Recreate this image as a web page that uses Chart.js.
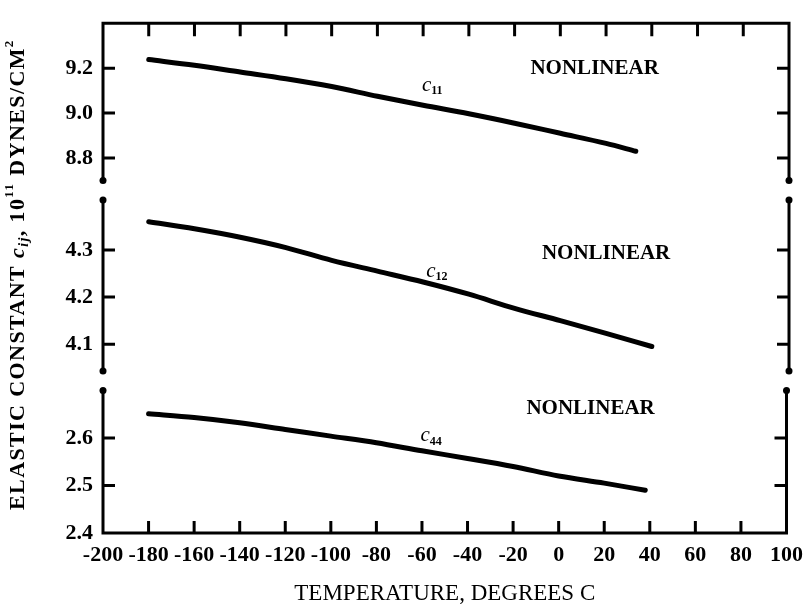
<!DOCTYPE html>
<html>
<head>
<meta charset="utf-8">
<script src="https://cdn.jsdelivr.net/npm/chart.js@4.4.1/dist/chart.umd.min.js"></script>
<style>
  html, body { margin: 0; padding: 0; background: #fff; }
  #wrap { position: relative; width: 812px; height: 604px; }
  #wrap canvas { position: absolute; left: 0; top: 0; }
</style>
</head>
<body>
<div id="wrap">
  <canvas id="chartTop" width="812" height="604"></canvas>
  <canvas id="chartMid" width="812" height="604"></canvas>
  <canvas id="chartBot" width="812" height="604"></canvas>
</div>
<script>
const FONT = '"Liberation Serif", "Times New Roman", serif';

// temperatures (deg C) and elastic constants (10^11 dynes/cm^2)
const tempsC11 = [-180, -160, -140, -120, -100, -80, -60, -40, -20, 0, 20, 33];
const valuesC11 = [9.238, 9.213, 9.183, 9.153, 9.118, 9.075, 9.035, 8.997, 8.955, 8.91, 8.865, 8.83];

const tempsC12 = [-180, -160, -140, -120, -100, -80, -60, -40, -20, 0, 20, 40];
const valuesC12 = [4.36, 4.345, 4.327, 4.305, 4.278, 4.255, 4.232, 4.206, 4.176, 4.15, 4.123, 4.095];

const tempsC44 = [-180, -160, -140, -120, -100, -80, -60, -40, -20, 0, 20, 38];
const valuesC44 = [2.651, 2.643, 2.632, 2.618, 2.604, 2.59, 2.573, 2.557, 2.54, 2.52, 2.505, 2.49];

const xTicks = [-200, -180, -160, -140, -120, -100, -80, -60, -40, -20, 0, 20, 40, 60, 80, 100];
const yTicksTop = [8.8, 9.0, 9.2];
const yTicksMid = [4.1, 4.2, 4.3];
const yTicksBot = [2.4, 2.5, 2.6];

function pointsOf(temps, values) {
    return temps.map((t, i) => ({ x: t, y: values[i] }));
}

// frame, inward ticks, broken-axis ends and the text on the plot
const framePlugin = {
    id: 'frame',
    afterDraw(chart, args, opts) {
        const { ctx, chartArea: a } = chart;
        const xs = chart.scales.x;
        const ys = chart.scales.y;
        ctx.save();
        ctx.strokeStyle = '#000';
        ctx.fillStyle = '#000';
        ctx.lineWidth = 3;
        ctx.beginPath();
        ctx.moveTo(a.left, a.top); ctx.lineTo(a.left, a.bottom);
        ctx.moveTo(a.right, a.top); ctx.lineTo(a.right, a.bottom);
        if (opts.top) { ctx.moveTo(a.left - 1.5, a.top); ctx.lineTo(a.right + 1.5, a.top); }
        if (opts.bottom) { ctx.moveTo(a.left - 1.5, a.bottom); ctx.lineTo(a.right + 1.5, a.bottom); }
        ys.ticks.forEach(t => {
            const py = ys.getPixelForValue(t.value);
            ctx.moveTo(a.left, py); ctx.lineTo(a.left + 12, py);
            ctx.moveTo(a.right, py); ctx.lineTo(a.right - 12, py);
        });
        xTicks.slice(1, -1).forEach(v => {
            const px = xs.getPixelForValue(v);
            if (opts.top) { ctx.moveTo(px, a.top); ctx.lineTo(px, a.top + 13); }
            if (opts.bottom) { ctx.moveTo(px, a.bottom); ctx.lineTo(px, a.bottom - 12); }
        });
        ctx.stroke();

        const ends = [];
        if (!opts.top) ends.push(a.top);
        if (!opts.bottom) ends.push(a.bottom);
        ends.forEach(py => {
            [a.left, a.right].forEach(px => {
                ctx.beginPath();
                ctx.arc(px, py, 3.5, 0, Math.PI * 2);
                ctx.fill();
            });
        });

        ctx.textBaseline = 'middle';
        (opts.labels || []).forEach(l => {
            const px = xs.getPixelForValue(l.x);
            const py = ys.getPixelForValue(l.y);
            if (l.sub) {
                ctx.font = 'italic 21px ' + FONT;
                const w1 = ctx.measureText(l.text).width;
                ctx.font = 'bold 12px ' + FONT;
                const w2 = ctx.measureText(l.sub).width;
                const x0 = px - (w1 + w2) / 2;
                ctx.textAlign = 'left';
                ctx.font = 'italic 21px ' + FONT;
                ctx.fillText(l.text, x0, py);
                ctx.font = 'bold 12px ' + FONT;
                ctx.fillText(l.sub, x0 + w1, py + 6);
            } else {
                ctx.font = 'bold 21px ' + FONT;
                ctx.textAlign = 'center';
                ctx.fillText(l.text, px, py);
            }
        });

        if (opts.yTitle) {
            const parts = [
                { t: 'ELASTIC CONSTANT ', f: 'bold 22px ', dy: 0 },
                { t: 'c', f: 'italic bold 22px ', dy: 0 },
                { t: 'ij', f: 'italic bold 14px ', dy: 6 },
                { t: ', 10', f: 'bold 22px ', dy: 0 },
                { t: '11', f: 'bold 13px ', dy: -8 },
                { t: ' DYNES/CM', f: 'bold 22px ', dy: 0 },
                { t: '2', f: 'bold 13px ', dy: -8 }
            ];
            ctx.translate(18, 510);
            ctx.rotate(-Math.PI / 2);
            ctx.textAlign = 'left';
            ctx.letterSpacing = '1.4px';
            let cx = 0;
            parts.forEach(p => {
                ctx.font = p.f + FONT;
                ctx.fillText(p.t, cx, p.dy);
                cx += ctx.measureText(p.t).width;
            });
        }
        ctx.restore();
    }
};

function makePanel(canvasId, temps, values, yMin, yMax, yTicks, pad, frameOpts, isBottom) {
    const ctx = document.getElementById(canvasId);
    return new Chart(ctx, {
        type: 'line',
        data: {
            datasets: [{
                data: pointsOf(temps, values),
                borderColor: '#000',
                borderWidth: 5,
                borderCapStyle: 'round',
                borderJoinStyle: 'round',
                pointRadius: 0,
                cubicInterpolationMode: 'monotone',
                clip: false
            }]
        },
        options: {
            responsive: false,
            animation: false,
            devicePixelRatio: 1,
            layout: { padding: { top: pad.top, bottom: pad.bottom, left: 0, right: 23 } },
            plugins: {
                legend: { display: false },
                tooltip: { enabled: false },
                frame: frameOpts
            },
            scales: {
                x: {
                    type: 'linear',
                    min: -200,
                    max: 100,
                    afterBuildTicks: s => { s.ticks = xTicks.map(v => ({ value: v })); },
                    afterFit: s => { s.height = isBottom ? 71 : 0; },
                    grid: { display: false, drawTicks: false },
                    border: { display: false },
                    ticks: {
                        display: isBottom,
                        autoSkip: false,
                        maxRotation: 0,
                        padding: 9,
                        color: '#000',
                        font: { family: FONT, size: 22, weight: 'bold' }
                    },
                    title: {
                        display: isBottom,
                        text: 'TEMPERATURE, DEGREES C',
                        color: '#000',
                        font: { family: FONT, size: 23 },
                        padding: { top: 0, bottom: -4 }
                    }
                },
                y: {
                    min: yMin,
                    max: yMax,
                    afterBuildTicks: s => { s.ticks = yTicks.map(v => ({ value: v })); },
                    afterFit: s => { s.width = 103; },
                    grid: { display: false, drawTicks: false },
                    border: { display: false },
                    ticks: {
                        padding: 10,
                        color: '#000',
                        font: { family: FONT, size: 22, weight: 'bold' },
                        callback: v => Number(v).toFixed(1)
                    }
                }
            }
        },
        plugins: [framePlugin]
    });
}

makePanel('chartTop', tempsC11, valuesC11, 8.7, 9.4, yTicksTop,
    { top: 16, bottom: 423.5 },
    { top: true, bottom: false, labels: [
        { text: 'c', sub: '11', x: -56, y: 9.125 },
        { text: 'NONLINEAR', x: 15, y: 9.2 }
    ] }, false);

makePanel('chartMid', tempsC12, valuesC12, 4.043, 4.406, yTicksMid,
    { top: 200, bottom: 233 },
    { top: false, bottom: false, labels: [
        { text: 'c', sub: '12', x: -54, y: 4.255 },
        { text: 'NONLINEAR', x: 20, y: 4.293 }
    ] }, false);

makePanel('chartBot', tempsC44, valuesC44, 2.4, 2.7, yTicksBot,
    { top: 390.5, bottom: 0 },
    { top: false, bottom: true, yTitle: true, labels: [
        { text: 'c', sub: '44', x: -56, y: 2.605 },
        { text: 'NONLINEAR', x: 14, y: 2.661 }
    ] }, true);
</script>
</body>
</html>
